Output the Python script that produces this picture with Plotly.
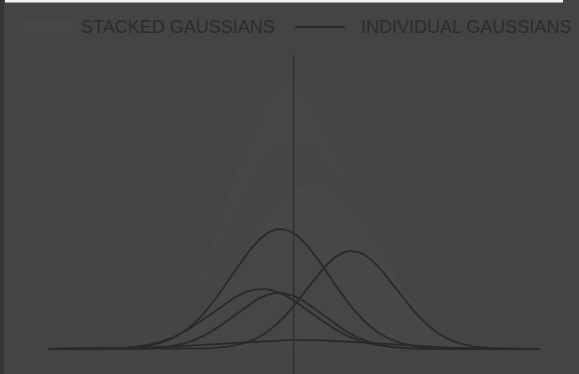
import numpy as np
import plotly.graph_objects as go

# Gaussian components: centre, spread and peak height
names = ["G1", "G2", "G3", "G4", "G5"]
centers = [-0.27, 1.18, -0.65, -0.30, 0.10]
sigmas = [1.00, 0.92, 1.00, 0.90, 1.60]
heights = [1.20, 0.98, 0.60, 0.56, 0.09]

legend_labels = ["STACKED GAUSSIANS", "INDIVIDUAL GAUSSIANS"]

x_min, x_max = -5.0, 5.0
x = np.linspace(x_min, x_max, 401)

W, H = 579, 374
bg = "#444444"
line_col = "#2a2a2a"
text_col = "#2c2c2c"
stack_fills = ["#464646", "#474747", "#454545", "#464646", "#454545"]

fig = go.Figure()

# stacked areas
for i, (m, s, h) in enumerate(zip(centers, sigmas, heights)):
    y = h * np.exp(-0.5 * ((x - m) / s) ** 2)
    fig.add_trace(go.Scatter(
        x=x, y=y, mode="lines", stackgroup="stack",
        line=dict(width=0.6, color="#494949"),
        fillcolor=stack_fills[i],
        name=legend_labels[0], showlegend=False, hoverinfo="skip",
    ))

# individual curves
for i, (m, s, h) in enumerate(zip(centers, sigmas, heights)):
    y = h * np.exp(-0.5 * ((x - m) / s) ** 2)
    fig.add_trace(go.Scatter(
        x=x, y=y, mode="lines",
        line=dict(width=1.8, color=line_col),
        name=legend_labels[1], showlegend=False,
    ))


def px(v):
    return v / W


def py(v):
    # pixel row (from top) -> paper y, with the plot area spanning rows 55..374
    return (H - v) / (H - 55)


legend_y = 27
annotations = [
    dict(text=legend_labels[0], xref="paper", yref="paper", x=px(79), y=py(legend_y),
         xanchor="left", yanchor="middle", showarrow=False,
         font=dict(size=18, color=text_col)),
    dict(text=legend_labels[1], xref="paper", yref="paper", x=px(359), y=py(legend_y),
         xanchor="left", yanchor="middle", showarrow=False,
         font=dict(size=18, color=text_col)),
]

shapes = [
    # vertical reference line at x = 0, drawn over the stacked areas
    dict(type="line", xref="x", yref="paper", x0=0, x1=0, y0=0, y1=1,
         line=dict(color="#2e2e2e", width=1.2), layer="above"),
    # legend swatches
    dict(type="rect", xref="paper", yref="paper", x0=px(24), x1=px(72),
         y0=py(legend_y + 5), y1=py(legend_y - 5), fillcolor="#474747", line=dict(width=0)),
    dict(type="line", xref="paper", yref="paper", x0=px(295), x1=px(345),
         y0=py(legend_y), y1=py(legend_y), line=dict(color=line_col, width=1.8)),
    # frame edges
    dict(type="rect", xref="paper", yref="paper", x0=px(5), x1=px(563),
         y0=py(2.5), y1=py(-1), fillcolor="#f4f4f4", line=dict(width=0), layer="above"),
    dict(type="rect", xref="paper", yref="paper", x0=0, x1=px(4),
         y0=py(H + 2), y1=py(-2), fillcolor="#363636", line=dict(width=0), layer="above"),
]

fig.update_layout(
    width=W, height=H,
    margin=dict(l=0, r=0, t=55, b=0),
    paper_bgcolor=bg, plot_bgcolor=bg,
    font=dict(family="Liberation Sans, Arial, sans-serif", size=18, color=text_col),
    showlegend=False,
    xaxis=dict(range=[-5.98, 5.81], showgrid=False, showticklabels=False, ticks="",
               zeroline=False, showline=False),
    yaxis=dict(range=[-0.25, 2.94], showgrid=False, showticklabels=False, ticks="",
               zeroline=False, showline=False),
    annotations=annotations,
    shapes=shapes,
)

fig.write_html("out.html")
